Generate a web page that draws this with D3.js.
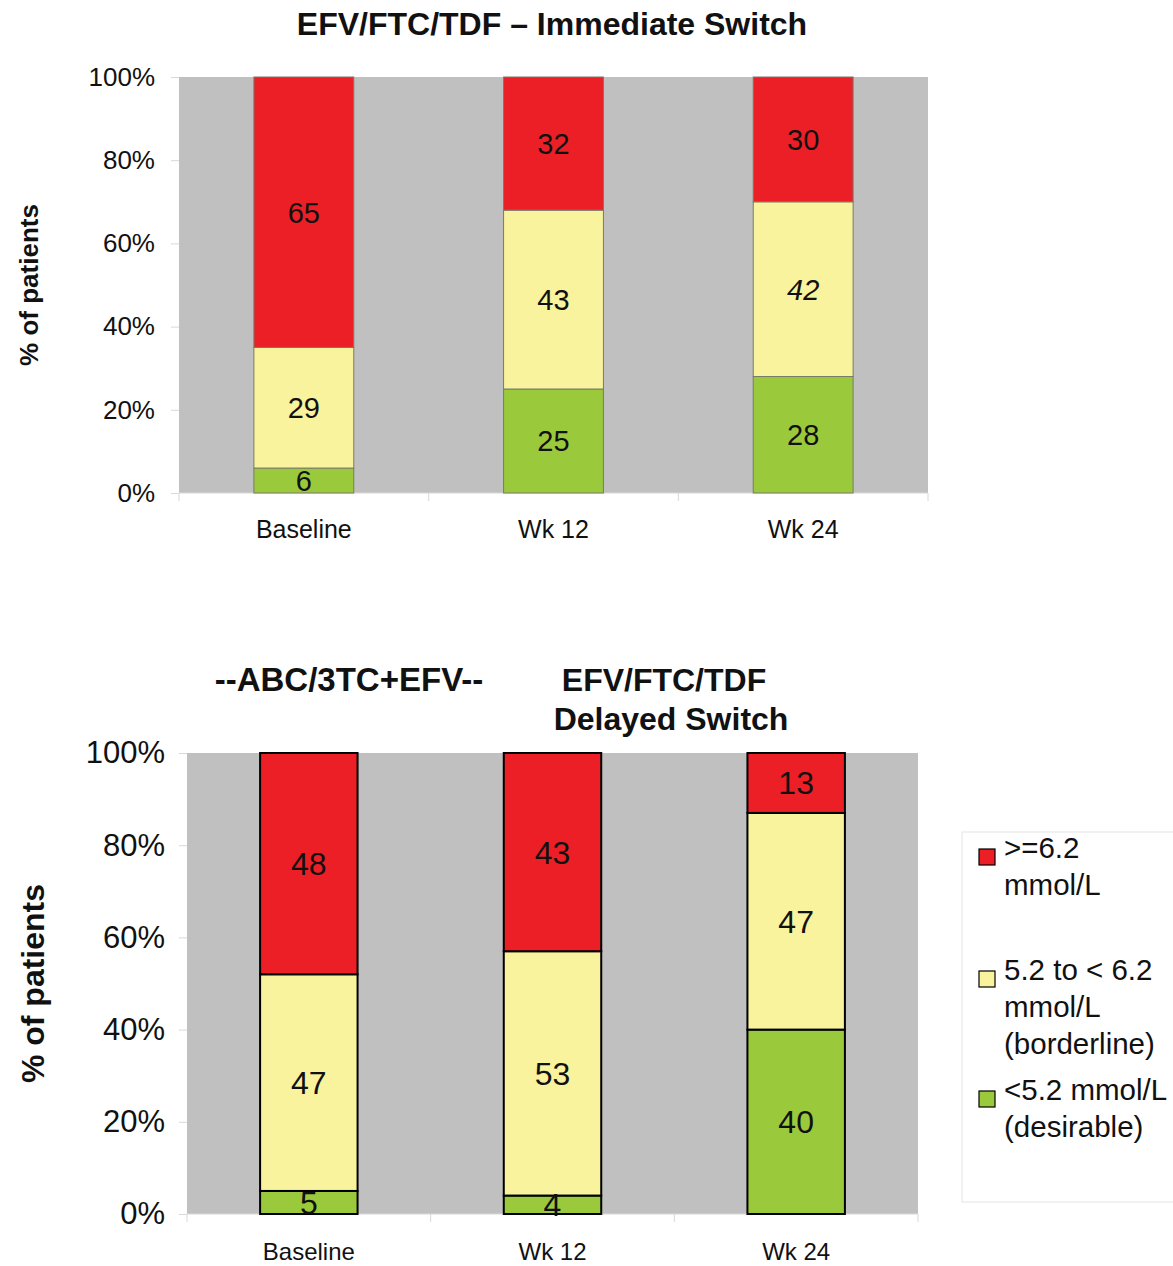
<!DOCTYPE html>
<html>
<head>
<meta charset="utf-8">
<script src="https://cdn.jsdelivr.net/npm/d3@7"></script>
<style>
  body { margin: 0; background: #fff; }
  text { font-family: "Liberation Sans", Arial, sans-serif; fill: #111; }
</style>
</head>
<body>
<script>
// chart values
var categories = ["Baseline", "Wk 12", "Wk 24"];
var levelKeys = ["desirable", "borderline", "high"];  // stacked bottom to top
var yTicks = [0, 20, 40, 60, 80, 100];

// EFV/FTC/TDF immediate switch
var immediateDesirable = [6, 25, 28];
var immediateBorderline = [29, 43, 42];
var immediateHigh = [65, 32, 30];

// ABC/3TC+EFV then delayed switch
var delayedDesirable = [5, 4, 40];
var delayedBorderline = [47, 53, 47];
var delayedHigh = [48, 43, 13];

var legendLines = [
  [">=6.2", "mmol/L"],
  ["5.2 to < 6.2", "mmol/L", "(borderline)"],
  ["<5.2 mmol/L", "(desirable)"]
];
var legendKeys = ["high", "borderline", "desirable"];

var colors = {high: "#ec1f26", borderline: "#f8f39c", desirable: "#9aca3c"};

var svg = d3.select("body").append("svg")
    .attr("width", 1173)
    .attr("height", 1266);

function buildRows(desirable, borderline, high) {
  return categories.map(function(c, i) {
    return {cat: c, desirable: desirable[i], borderline: borderline[i], high: high[i]};
  });
}

function drawPanel(opt) {
  var rows = buildRows(opt.desirable, opt.borderline, opt.high);
  var x = d3.scaleBand()
      .domain(categories)
      .range([opt.left, opt.right])
      .paddingInner(0.6)
      .paddingOuter(0.3);
  var y = d3.scaleLinear()
      .domain([0, 100])
      .range([opt.bottom, opt.top]);

  // grey plot background
  svg.append("rect")
      .attr("x", opt.left)
      .attr("y", y(100))
      .attr("width", opt.right - opt.left)
      .attr("height", y(0) - y(100))
      .attr("fill", "#c0c0c0");

  // y axis
  var yAxis = svg.append("g")
      .attr("transform", "translate(" + opt.left + ",0)")
      .call(d3.axisLeft(y).tickValues(yTicks).tickSize(8).tickPadding(opt.tickPad)
            .tickFormat(function(d) { return d + "%"; }));
  yAxis.select(".domain").remove();
  yAxis.selectAll(".tick line").attr("stroke", "#d8d8d8");
  yAxis.selectAll("text")
      .style("font-size", opt.tickFont + "px")
      .attr("fill", "#111");

  // x axis with separators between categories
  var xAxis = svg.append("g")
      .attr("transform", "translate(0," + y(0) + ")");
  xAxis.append("line")
      .attr("x1", opt.left).attr("x2", opt.right)
      .attr("stroke", "#d8d8d8");
  var seps = [opt.left].concat(categories.map(function(c) { return x(c) + x.bandwidth() + x.step() * 0.3; }));
  xAxis.selectAll(".sep")
      .data(seps)
      .enter().append("line")
      .attr("x1", function(d) { return d; })
      .attr("x2", function(d) { return d; })
      .attr("y1", 0).attr("y2", 8)
      .attr("stroke", "#d8d8d8");
  xAxis.selectAll(".cat")
      .data(categories)
      .enter().append("text")
      .attr("x", function(d) { return x(d) + x.bandwidth() / 2; })
      .attr("y", opt.catY - y(0))
      .attr("text-anchor", "middle")
      .style("font-family", opt.catFamily)
      .style("font-size", opt.catFont + "px")
      .text(function(d) { return d; });

  // stacked bars
  var stacked = d3.stack().keys(levelKeys)(rows);
  var layer = svg.selectAll(null)
      .data(stacked)
      .enter().append("g")
      .attr("fill", function(d) { return colors[d.key]; });
  layer.selectAll("rect")
      .data(function(d) { return d; })
      .enter().append("rect")
      .attr("x", function(d) { return x(d.data.cat); })
      .attr("y", function(d) { return y(d[1]); })
      .attr("width", x.bandwidth())
      .attr("height", function(d) { return y(d[0]) - y(d[1]); })
      .attr("stroke", opt.barStroke)
      .attr("stroke-width", opt.barStrokeWidth);

  // value labels in the middle of each segment
  stacked.forEach(function(s) {
    svg.selectAll(null)
        .data(s)
        .enter().append("text")
        .attr("x", function(d) { return x(d.data.cat) + x.bandwidth() / 2; })
        .attr("y", function(d) { return (y(d[0]) + y(d[1])) / 2; })
        .attr("dy", "0.36em")
        .attr("text-anchor", "middle")
        .style("font-family", opt.labelFamily)
        .style("font-size", opt.labelFont + "px")
        .style("font-style", function(d) {
          return (opt.italic && d.data.cat === "Wk 24" && s.key === "borderline") ? "italic" : "normal";
        })
        .text(function(d) { return d.data[s.key]; });
  });

  // y axis title
  svg.append("text")
      .attr("transform", "translate(" + opt.yTitleX + "," + ((y(0) + y(100)) / 2) + ") rotate(-90)")
      .attr("text-anchor", "middle")
      .style("font-size", opt.yTitleFont + "px")
      .style("font-weight", "bold")
      .text("% of patients");
}

// top panel
drawPanel({
  desirable: immediateDesirable, borderline: immediateBorderline, high: immediateHigh,
  left: 179, right: 928, top: 77, bottom: 493,
  tickFont: 26, tickPad: 16, catFont: 25, catY: 538, catFamily: "Liberation Sans, Arial, sans-serif",
  labelFont: 29, labelFamily: "Liberation Sans, Arial, sans-serif",
  barStroke: "#7a7a6a", barStrokeWidth: 1,
  yTitleX: 38, yTitleFont: 26, italic: true
});

svg.append("text")
    .attr("x", 552).attr("y", 35)
    .attr("text-anchor", "middle")
    .style("font-size", "32px").style("font-weight", "bold")
    .text("EFV/FTC/TDF \u2013 Immediate Switch");

// bottom panel
drawPanel({
  desirable: delayedDesirable, borderline: delayedBorderline, high: delayedHigh,
  left: 187, right: 918, top: 753, bottom: 1214,
  tickFont: 31, tickPad: 14, catFont: 24, catY: 1260, catFamily: "Liberation Sans Narrow, Arial Narrow, sans-serif",
  labelFont: 32, labelFamily: "Liberation Sans Narrow, Arial Narrow, sans-serif",
  barStroke: "#000", barStrokeWidth: 2,
  yTitleX: 44, yTitleFont: 32, italic: false
});

svg.append("text")
    .attr("x", 349).attr("y", 691)
    .attr("text-anchor", "middle")
    .style("font-size", "33px").style("font-weight", "bold")
    .text("--ABC/3TC+EFV--");
svg.append("text")
    .attr("x", 664).attr("y", 691)
    .attr("text-anchor", "middle")
    .style("font-size", "32px").style("font-weight", "bold")
    .text("EFV/FTC/TDF");
svg.append("text")
    .attr("x", 671).attr("y", 730)
    .attr("text-anchor", "middle")
    .style("font-size", "32px").style("font-weight", "bold")
    .text("Delayed Switch");

// legend
var legend = svg.append("g");
legend.append("rect")
    .attr("x", 962).attr("y", 832)
    .attr("width", 230).attr("height", 370)
    .attr("fill", "#fff")
    .attr("stroke", "#e4e4e4");
var legendTop = [858, 980, 1100];
legendKeys.forEach(function(k, i) {
  legend.append("rect")
      .attr("x", 979).attr("y", legendTop[i] - 9)
      .attr("width", 16).attr("height", 16)
      .attr("fill", colors[k])
      .attr("stroke", "#000")
      .attr("stroke-width", 1.2);
  legend.append("text")
      .attr("x", 1004).attr("y", legendTop[i])
      .attr("dy", "0.36em")
      .style("font-size", "29.5px")
      .selectAll("tspan")
      .data(legendLines[i])
      .enter().append("tspan")
      .attr("x", 1004)
      .attr("dy", function(d, j) { return j === 0 ? 0 : 37; })
      .text(function(d) { return d; });
});
</script>
</body>
</html>
